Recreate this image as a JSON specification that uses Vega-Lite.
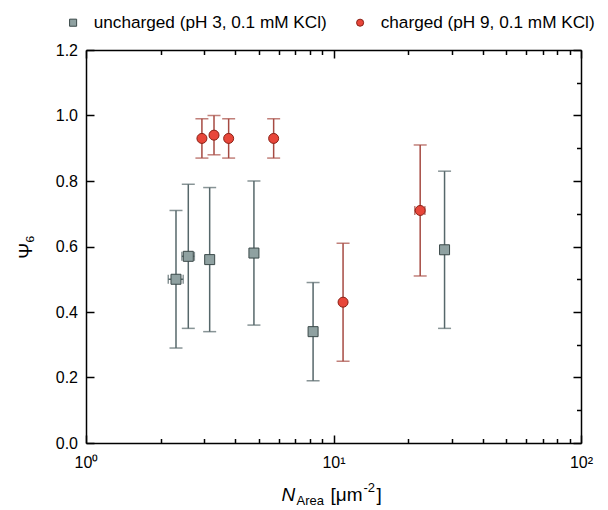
{
  "$schema": "https://vega.github.io/schema/vega-lite/v6.json",
  "width": 495,
  "height": 393,
  "autosize": {"type": "none"},
  "padding": {"left": 86, "top": 50, "right": 27, "bottom": 67},
  "background": "white",
  "config": {
    "view": {"stroke": null},
    "font": "Liberation Sans"
  },
  "data": {
    "values": [
      {"series": "uncharged (pH 3, 0.1 mM KCl)", "x": 2.31, "y": 0.50, "ylo": 0.29, "yhi": 0.71, "xlo": 2.15, "xhi": 2.47},
      {"series": "uncharged (pH 3, 0.1 mM KCl)", "x": 2.59, "y": 0.57, "ylo": 0.35, "yhi": 0.79, "xlo": 2.44, "xhi": 2.74},
      {"series": "uncharged (pH 3, 0.1 mM KCl)", "x": 3.16, "y": 0.56, "ylo": 0.34, "yhi": 0.78, "xlo": null, "xhi": null},
      {"series": "uncharged (pH 3, 0.1 mM KCl)", "x": 4.77, "y": 0.58, "ylo": 0.36, "yhi": 0.80, "xlo": null, "xhi": null},
      {"series": "uncharged (pH 3, 0.1 mM KCl)", "x": 8.27, "y": 0.34, "ylo": 0.19, "yhi": 0.49, "xlo": null, "xhi": null},
      {"series": "uncharged (pH 3, 0.1 mM KCl)", "x": 28.1, "y": 0.59, "ylo": 0.35, "yhi": 0.83, "xlo": 27.6, "xhi": 28.6},
      {"series": "charged (pH 9, 0.1 mM KCl)", "x": 2.94, "y": 0.93, "ylo": 0.87, "yhi": 0.99, "xlo": null, "xhi": null},
      {"series": "charged (pH 9, 0.1 mM KCl)", "x": 3.29, "y": 0.94, "ylo": 0.88, "yhi": 1.00, "xlo": 3.24, "xhi": 3.34},
      {"series": "charged (pH 9, 0.1 mM KCl)", "x": 3.77, "y": 0.93, "ylo": 0.87, "yhi": 0.99, "xlo": 3.71, "xhi": 3.83},
      {"series": "charged (pH 9, 0.1 mM KCl)", "x": 5.73, "y": 0.93, "ylo": 0.87, "yhi": 0.99, "xlo": 5.64, "xhi": 5.82},
      {"series": "charged (pH 9, 0.1 mM KCl)", "x": 10.93, "y": 0.43, "ylo": 0.25, "yhi": 0.61, "xlo": null, "xhi": null},
      {"series": "charged (pH 9, 0.1 mM KCl)", "x": 22.4, "y": 0.71, "ylo": 0.51, "yhi": 0.91, "xlo": 21.3, "xhi": 23.4}
    ]
  },
  "resolve": {"axis": {"x": "independent", "y": "independent"}},
  "layer": [
    {
      "layer": [
        {
          "mark": {"type": "rule", "strokeWidth": 1.5},
          "encoding": {
            "x": {
              "field": "x", "type": "quantitative",
              "scale": {"type": "log", "domain": [1, 100], "nice": false},
              "axis": {
                "orient": "bottom",
                "values": [1, 2, 3, 4, 5, 6, 7, 8, 9, 10, 20, 30, 40, 50, 60, 70, 80, 90, 100],
                "labelExpr": "datum.value == 1 ? '10⁰' : datum.value == 10 ? '10¹' : datum.value == 100 ? '10²' : ''",
                "title": null,
                "grid": false,
                "domainColor": "black", "domainWidth": 1.5,
                "tickColor": "black", "tickWidth": 1.5,
                "tickSize": {"condition": {"test": "datum.value == 1 || datum.value == 10 || datum.value == 100", "value": -8}, "value": -4.5},
                "labelFontSize": 16, "labelFont": "Liberation Sans", "labelColor": "black",
                "labelPadding": 19, "labelFlush": false, "labelOverlap": false
              }
            },
            "y": {
              "field": "ylo", "type": "quantitative",
              "scale": {"domain": [0, 1.2], "nice": false, "zero": false},
              "axis": {
                "orient": "left",
                "values": [0, 0.1, 0.2, 0.3, 0.4, 0.5, 0.6, 0.7, 0.8, 0.9, 1.0, 1.1, 1.2],
                "labelExpr": "round(datum.value * 10) % 2 == 0 ? format(datum.value, '.1f') : ''",
                "title": "Ψ₆",
                "titleFontSize": 19, "titleFontWeight": "normal", "titleFont": "Liberation Sans", "titleColor": "black",
                "titlePadding": 20,
                "grid": false,
                "domainColor": "black", "domainWidth": 1.5,
                "tickColor": "black", "tickWidth": 1.5,
                "tickSize": {"condition": {"test": "round(datum.value * 10) % 2 == 0", "value": -8}, "value": -4.5},
                "labelFontSize": 16, "labelFont": "Liberation Sans", "labelColor": "black",
                "labelPadding": 16.5, "labelFlush": false, "labelOverlap": false
              }
            },
            "y2": {"field": "yhi"},
            "color": {
              "field": "series", "type": "nominal",
              "scale": {"domain": ["charged (pH 9, 0.1 mM KCl)", "uncharged (pH 3, 0.1 mM KCl)"], "range": ["#a64a42", "#56676a"]},
              "legend": null
            }
          }
        },
        {
          "mark": {"type": "tick", "orient": "horizontal", "size": 13, "thickness": 1.5},
          "encoding": {
            "x": {"field": "x", "type": "quantitative"},
            "y": {"field": "ylo", "type": "quantitative"},
            "color": {"field": "series", "type": "nominal", "legend": null}
          }
        },
        {
          "mark": {"type": "tick", "orient": "horizontal", "size": 13, "thickness": 1.5},
          "encoding": {
            "x": {"field": "x", "type": "quantitative"},
            "y": {"field": "yhi", "type": "quantitative"},
            "color": {"field": "series", "type": "nominal", "legend": null}
          }
        },
        {
          "transform": [{"filter": "datum.xlo != null"}],
          "mark": {"type": "rule", "strokeWidth": 1.5},
          "encoding": {
            "x": {"field": "xlo", "type": "quantitative"},
            "x2": {"field": "xhi"},
            "y": {"field": "y", "type": "quantitative"},
            "color": {"field": "series", "type": "nominal", "legend": null}
          }
        },
        {
          "transform": [{"filter": "datum.xlo != null"}],
          "mark": {"type": "tick", "orient": "vertical", "size": 9, "thickness": 1.5},
          "encoding": {
            "x": {"field": "xlo", "type": "quantitative"},
            "y": {"field": "y", "type": "quantitative"},
            "color": {"field": "series", "type": "nominal", "legend": null}
          }
        },
        {
          "transform": [{"filter": "datum.xlo != null"}],
          "mark": {"type": "tick", "orient": "vertical", "size": 9, "thickness": 1.5},
          "encoding": {
            "x": {"field": "xhi", "type": "quantitative"},
            "y": {"field": "y", "type": "quantitative"},
            "color": {"field": "series", "type": "nominal", "legend": null}
          }
        },
        {
          "data": {"values": [{}]},
          "mark": {"type": "text", "text": "N", "font": "Liberation Sans", "fontSize": 19, "fontStyle": "italic", "align": "left", "baseline": "alphabetic", "dx": -52, "dy": 58, "color": "black"},
          "encoding": {"x": {"datum": 10, "type": "quantitative"}, "y": {"datum": 0, "type": "quantitative"}}
        },
        {
          "data": {"values": [{}]},
          "mark": {"type": "text", "text": "Area", "font": "Liberation Sans", "fontSize": 13, "align": "left", "baseline": "alphabetic", "dx": -37, "dy": 62, "color": "black"},
          "encoding": {"x": {"datum": 10, "type": "quantitative"}, "y": {"datum": 0, "type": "quantitative"}}
        },
        {
          "data": {"values": [{}]},
          "mark": {"type": "text", "text": "[μm", "font": "Liberation Sans", "fontSize": 19, "align": "left", "baseline": "alphabetic", "dx": -3, "dy": 58, "color": "black"},
          "encoding": {"x": {"datum": 10, "type": "quantitative"}, "y": {"datum": 0, "type": "quantitative"}}
        },
        {
          "data": {"values": [{}]},
          "mark": {"type": "text", "text": "-2", "font": "Liberation Sans", "fontSize": 13, "align": "left", "baseline": "alphabetic", "dx": 30, "dy": 49, "color": "black"},
          "encoding": {"x": {"datum": 10, "type": "quantitative"}, "y": {"datum": 0, "type": "quantitative"}}
        },
        {
          "data": {"values": [{}]},
          "mark": {"type": "text", "text": "]", "font": "Liberation Sans", "fontSize": 19, "align": "left", "baseline": "alphabetic", "dx": 43, "dy": 58, "color": "black"},
          "encoding": {"x": {"datum": 10, "type": "quantitative"}, "y": {"datum": 0, "type": "quantitative"}}
        }
      ]
    },
    {
      "mark": {"type": "point", "filled": true, "size": 100, "strokeWidth": 1, "opacity": 1},
      "encoding": {
        "x": {
          "field": "x", "type": "quantitative",
          "axis": {
            "orient": "top",
            "values": [1, 2, 3, 4, 5, 6, 7, 8, 9, 10, 20, 30, 40, 50, 60, 70, 80, 90, 100],
            "labels": false, "title": null, "grid": false,
            "domainColor": "black", "domainWidth": 1.5,
            "tickColor": "black", "tickWidth": 1.5,
            "tickSize": {"condition": {"test": "datum.value == 1 || datum.value == 10 || datum.value == 100", "value": -8}, "value": -4.5}
          }
        },
        "y": {
          "field": "y", "type": "quantitative",
          "axis": {
            "orient": "right",
            "values": [0, 0.1, 0.2, 0.3, 0.4, 0.5, 0.6, 0.7, 0.8, 0.9, 1.0, 1.1, 1.2],
            "labels": false, "title": null, "grid": false,
            "domainColor": "black", "domainWidth": 1.5,
            "tickColor": "black", "tickWidth": 1.5,
            "tickSize": {"condition": {"test": "round(datum.value * 10) % 2 == 0", "value": -8}, "value": -4.5}
          }
        },
        "fill": {
          "field": "series", "type": "nominal", "title": null,
          "scale": {"domain": ["uncharged (pH 3, 0.1 mM KCl)", "charged (pH 9, 0.1 mM KCl)"], "range": ["#8fa1a1", "#e8463a"]},
          "legend": {
            "orient": "none",
            "legendX": -21.5,
            "legendY": -36,
            "direction": "horizontal",
            "labelFontSize": 17.2,
            "labelFont": "Liberation Sans",
            "labelColor": "black",
            "labelLimit": 0,
            "symbolSize": 50,
            "columnPadding": 24,
            "labelOffset": 12,
            "symbolStrokeWidth": 1
          }
        },
        "stroke": {
          "field": "series", "type": "nominal", "title": null,
          "scale": {"domain": ["uncharged (pH 3, 0.1 mM KCl)", "charged (pH 9, 0.1 mM KCl)"], "range": ["#3b4949", "#8a2015"]}
        },
        "shape": {
          "field": "series", "type": "nominal", "title": null,
          "scale": {"domain": ["uncharged (pH 3, 0.1 mM KCl)", "charged (pH 9, 0.1 mM KCl)"], "range": ["square", "circle"]}
        }
      }
    }
  ]
}
